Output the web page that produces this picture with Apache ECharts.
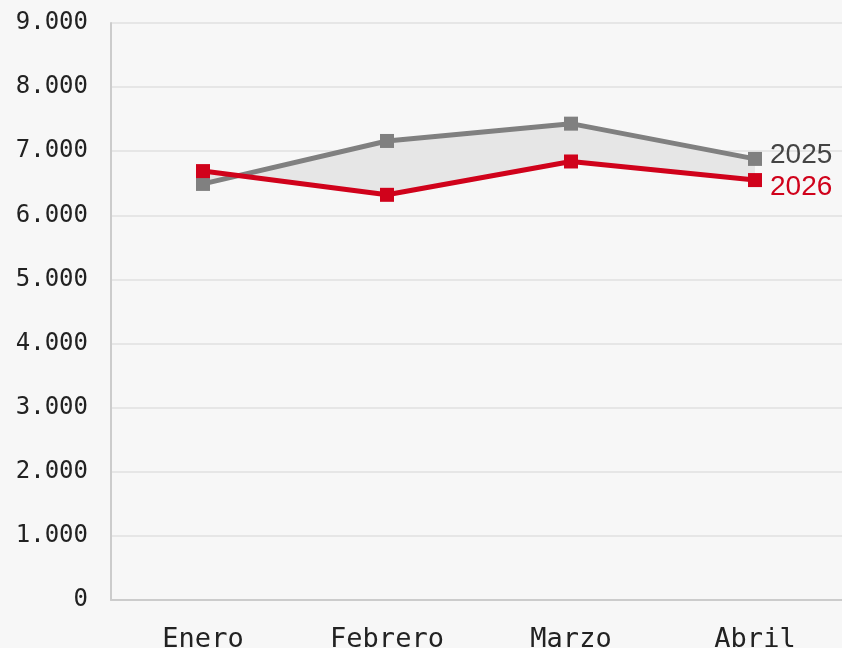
<!DOCTYPE html>
<html>
<head>
<meta charset="utf-8">
<script src="https://cdn.jsdelivr.net/npm/echarts@6/dist/echarts.min.js"></script>
<style>
  html, body { margin: 0; padding: 0; background: #f7f7f7; }
  #chart { width: 842px; height: 648px; }
</style>
</head>
<body>
<div id="chart"></div>
<script>
// meses
const meses = ["Enero", "Febrero", "Marzo", "Abril"];
// valores por año
const valores2025 = [6490, 7160, 7430, 6880];
const valores2026 = [6690, 6320, 6840, 6550];
// eje y
const yMin = 0, yMax = 9000, yPaso = 1000;

const gris = "#808080";
const rojo = "#d0021b";

// separador de miles con punto
function miles(v) {
  return String(v).replace(/\B(?=(\d{3})+(?!\d))/g, ".");
}

const chart = echarts.init(document.getElementById("chart"));
chart.setOption({
  backgroundColor: "#f7f7f7",
  animation: false,
  grid: { left: 111, right: -5, top: 23, bottom: 48, outerBoundsMode: "none" },
  xAxis: {
    type: "category",
    data: meses,
    axisTick: { show: false },
    axisLine: { lineStyle: { color: "#cccccc", width: 2 } },
    axisLabel: { fontFamily: "DejaVu Sans Mono", fontSize: 27, color: "#222", margin: 26 }
  },
  yAxis: {
    type: "value",
    min: yMin, max: yMax, interval: yPaso,
    axisLine: { show: true, lineStyle: { color: "#cccccc", width: 2 } },
    axisTick: { show: false },
    splitLine: { lineStyle: { color: "#e0e0e0", width: 1.5 } },
    axisLabel: { fontFamily: "DejaVu Sans Mono", fontSize: 24, color: "#222", margin: 23, formatter: miles }
  },
  series: [
    {
      // relleno entre las dos líneas
      type: "custom",
      z: 1,
      silent: true,
      data: [0],
      renderItem: function (params, api) {
        const arriba = valores2025.map((v, i) => api.coord([i, v]));
        const abajo = valores2026.map((v, i) => api.coord([i, v])).reverse();
        return {
          type: "polygon",
          shape: { points: arriba.concat(abajo) },
          style: { fill: "#e6e6e6" }
        };
      }
    },
    {
      name: "2025",
      type: "line",
      z: 3,
      data: valores2025,
      symbol: "rect",
      symbolSize: 14,
      itemStyle: { color: gris },
      lineStyle: { color: gris, width: 5 },
      endLabel: {
        show: true, formatter: "{a}", distance: 15, offset: [0, -4],
        fontFamily: "Liberation Sans", fontSize: 28, color: "#444"
      }
    },
    {
      name: "2026",
      type: "line",
      z: 4,
      data: valores2026,
      symbol: "rect",
      symbolSize: 14,
      itemStyle: { color: rojo },
      lineStyle: { color: rojo, width: 5 },
      endLabel: {
        show: true, formatter: "{a}", distance: 15, offset: [0, 7],
        fontFamily: "Liberation Sans", fontSize: 28, color: rojo
      }
    }
  ]
});
window.addEventListener("resize", () => chart.resize());
</script>
</body>
</html>
